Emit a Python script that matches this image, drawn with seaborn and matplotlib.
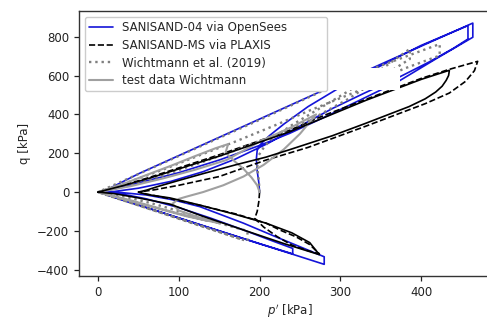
import matplotlib
matplotlib.use("Agg")
import matplotlib.pyplot as plt
from matplotlib.patches import Rectangle
import seaborn as sns
import pandas as pd

# ---------------- data (p' , q) ----------------
# SANISAND-04 via OpenSees
blue_p = [200, 199, 197, 196, 197, 202, 212, 230, 260, 300, 350, 400, 458,
          458, 440, 410, 372, 330, 290, 250, 210, 170, 130, 90, 50, 20, 0,
          30, 90, 150, 200, 241,
          241, 215, 180, 140, 100, 60, 30, 5,
          50, 150, 250, 350, 464,
          464, 420, 372, 324, 280, 237, 200, 150, 100, 64, 30, 0,
          70, 140, 210, 280,
          280, 255, 220, 180, 126, 93, 60, 30, 0]
blue_q = [0, 50, 110, 170, 215, 250, 290, 350, 440, 540, 650, 755, 857,
          788, 740, 670, 590, 510, 430, 340, 250, 170, 105, 55, 20, 3, 0,
          -40, -120, -200, -266, -318,
          -290, -250, -195, -135, -80, -35, -10, 0,
          94, 282, 470, 658, 870,
          797, 690, 570, 473, 385, 302, 240, 165, 100, 62, 25, 0,
          -93, -186, -279, -372,
          -333, -290, -230, -160, -75, -40, -15, -3, 0]

# SANISAND-MS via PLAXIS
ms_p = [200, 199, 197, 194, 205, 222, 241, 260, 274,
        262, 245, 225, 208, 170, 126, 90, 60, 50,
        70, 100, 150, 208, 260, 332, 370, 405, 435, 455, 466, 470,
        452, 435, 400, 332, 280, 237, 150, 64, 25, 0]
ms_q = [0, -50, -100, -135, -180, -230, -275, -302, -318,
        -270, -230, -195, -160, -112, -68, -35, -10, 0,
        12, 35, 80, 165, 230, 340, 400, 455, 510, 570, 625, 673,
        652, 632, 585, 478, 395, 318, 192, 76, 27, 0]

# second PLAXIS curve (solid black, not in legend)
msb_p = [0, 30, 64, 150, 237, 332, 400, 435,
         434, 431, 426, 418, 405, 385, 360, 332, 290, 237, 208, 170, 130, 100, 75, 60, 50,
         60, 89, 126, 170, 208, 240, 262, 274,
         230, 180, 130, 89, 50, 20, 0]
msb_q = [0, 32, 72, 185, 310, 473, 580, 627,
         600, 575, 545, 515, 480, 440, 400, 355, 290, 218, 180, 140, 95, 60, 30, 10, 0,
         -12, -30, -67, -115, -160, -210, -260, -322,
         -265, -195, -125, -62, -30, -8, 0]

# Wichtmann et al. (2019)
wi_p = [200, 199, 197, 199, 206, 215, 240, 270, 310, 350, 386,
        386, 350, 310, 262, 217, 170, 126, 80, 40, 0,
        60, 120, 185,
        185, 150, 110, 70, 35, 0,
        100, 200, 330, 423,
        423, 378, 324, 262, 217, 170, 126, 80, 40, 0,
        90, 180]
wi_q = [0, 60, 130, 190, 235, 275, 345, 420, 520, 630, 737,
        685, 590, 480, 370, 290, 215, 150, 85, 35, 0,
        -82, -164, -253,
        -200, -160, -110, -62, -25, 0,
        186, 372, 620, 762,
        703, 634, 524, 420, 340, 260, 190, 115, 55, 0,
        -123, -247]

# test data Wichtmann
td_p = [200, 197, 190, 180, 170, 163, 158, 161,
        145, 120, 90, 60, 30, 0,
        30, 70, 110, 150,
        125, 100, 92, 100, 109, 130, 155, 180, 205, 230, 250, 270,
        240, 200, 159, 120, 80, 40, 0,
        40, 90, 135]
td_q = [0, 35, 75, 120, 155, 182, 205, 247,
        225, 185, 135, 88, 40, 0,
        -35, -80, -125, -160,
        -130, -95, -60, -35, -24, 0, 35, 80, 140, 220, 300, 400,
        335, 260, 165, 115, 70, 30, 0,
        -42, -100, -148]

# ---------------- plotting ----------------
sns.set_style("ticks")
plt.rcParams["font.family"] = ["DejaVu Sans"]
plt.rcParams["font.size"] = 8.5

def frame(p, q, name):
    return pd.DataFrame({"p": p, "q": q, "s": name})

d_blue = frame(blue_p, blue_q, "SANISAND-04 via OpenSees")
d_ms = frame(ms_p, ms_q, "SANISAND-MS via PLAXIS")
d_msb = frame(msb_p, msb_q, "_msb")
d_wi = frame(wi_p, wi_q, "Wichtmann et al. (2019)")
d_td = frame(td_p, td_q, "test data Wichtmann")

fig = plt.figure(figsize=(4.87, 3.2), dpi=100)
ax = fig.add_axes([0.162, 0.1375, 0.8665, 0.828])

sns.lineplot(data=d_blue, x="p", y="q", sort=False, estimator=None, ax=ax,
             color="#1414d8", lw=1.2, label="SANISAND-04 via OpenSees")
sns.lineplot(data=d_ms, x="p", y="q", sort=False, estimator=None, ax=ax,
             color="black", lw=1.2, linestyle="--", label="SANISAND-MS via PLAXIS")
sns.lineplot(data=d_wi, x="p", y="q", sort=False, estimator=None, ax=ax,
             color="#7f7f7f", lw=1.7, linestyle=":", label="Wichtmann et al. (2019)")
sns.lineplot(data=d_td, x="p", y="q", sort=False, estimator=None, ax=ax,
             color="#a0a0a0", lw=1.5, label="test data Wichtmann")
sns.lineplot(data=d_msb, x="p", y="q", sort=False, estimator=None, ax=ax,
             color="black", lw=1.2, legend=False)

ax.set_xlim(-23.75, 498.75)
ax.set_ylim(-432, 932)
ax.set_xticks([0, 100, 200, 300, 400])
ax.set_yticks([-400, -200, 0, 200, 400, 600, 800])
ax.set_xlabel("$p'$ [kPa]", labelpad=3)
ax.set_ylabel("q [kPa]")
ax.spines["right"].set_visible(False)
for s in ax.spines.values():
    s.set_color("#333333")
    s.set_linewidth(1.0)
ax.tick_params(colors="#222222", length=3.5, width=0.9, labelsize=8.5)

ax.add_patch(Rectangle((0.588, 0.702), 0.173, 0.083, transform=ax.transAxes,
                       facecolor="white", edgecolor="none", zorder=4.5))

leg = ax.legend(loc="upper left", bbox_to_anchor=(0.0, 0.0, 0.602, 1.0),
                mode="expand", fontsize=8.5, framealpha=1.0,
                labelspacing=0.4, borderpad=0.35)
leg.get_frame().set_edgecolor("#cccccc")

fig.savefig("out.png", dpi=100)
